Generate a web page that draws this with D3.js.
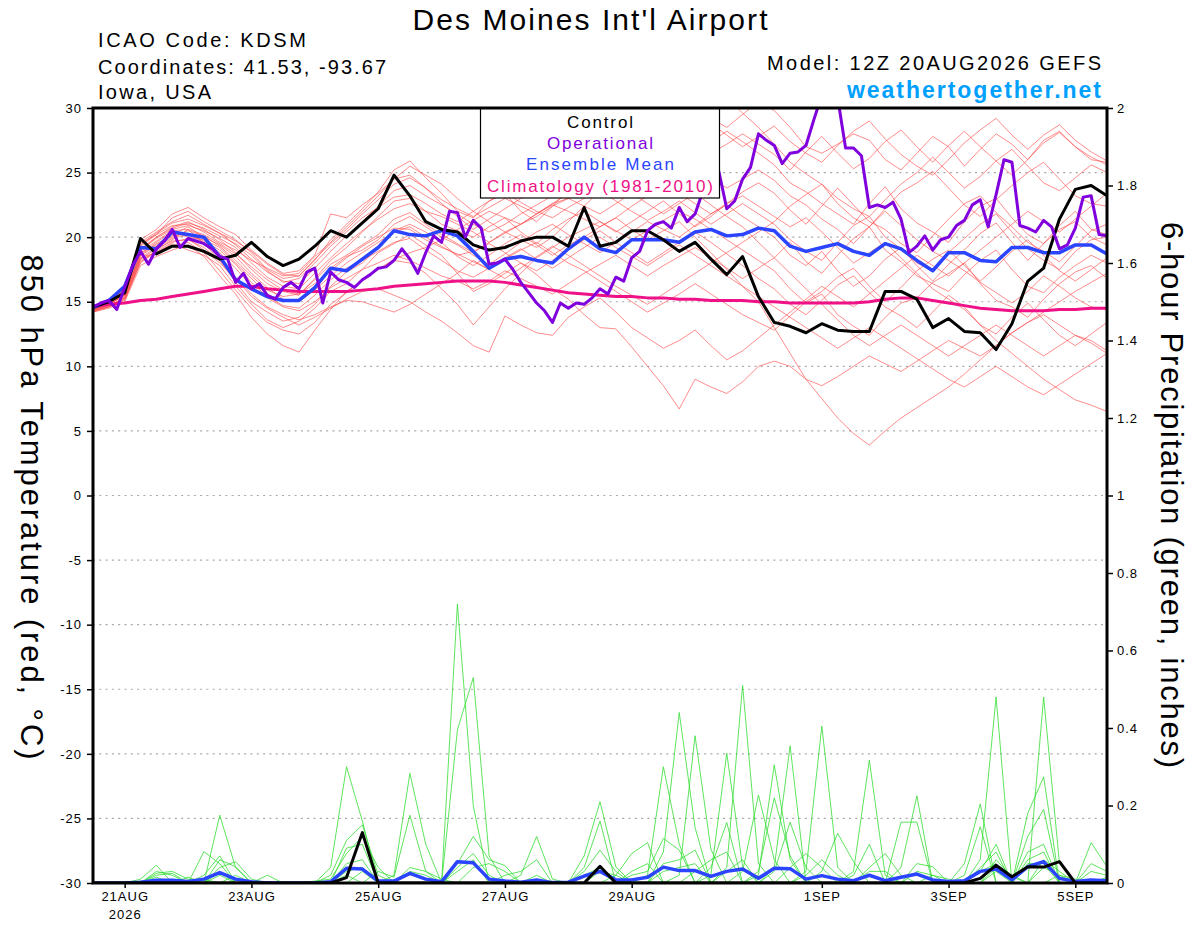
<!DOCTYPE html>
<html>
<head>
<meta charset="utf-8">
<script src="https://cdn.jsdelivr.net/npm/d3@7"></script>
<style>
  body { margin: 0; background: #fff; }
  text { font-family: "Liberation Sans", Arial, Helvetica, sans-serif; }
</style>
</head>
<body>
<svg id="chart" width="1200" height="927"></svg>
<script>
// ---- run / time info ----
const runStart = new Date(Date.UTC(2026, 7, 20, 12));
const runEnd = new Date(Date.UTC(2026, 8, 5, 12));
const stepHours = 6;      // ensemble output every 6h
const operStepHours = 3;  // operational run every 3h

const tempTicks = [30, 25, 20, 15, 10, 5, 0, -5, -10, -15, -20, -25, -30];
const precipTicks = [2, 1.8, 1.6, 1.4, 1.2, 1, 0.8, 0.6, 0.4, 0.2, 0];
const dateTicks = ["2026-08-21", "2026-08-23", "2026-08-25", "2026-08-27", "2026-08-29", "2026-09-01", "2026-09-03", "2026-09-05"];

// ---- 850 hPa temperature (C), 6-hourly ----
const controlTemp = [14.6,15.0,15.7,19.9,18.7,19.3,19.3,18.9,18.3,18.6,19.6,18.5,17.8,18.3,19.3,20.5,20.0,21.1,22.2,24.8,23.2,21.2,20.6,20.4,19.4,19.0,19.2,19.7,20.0,20.0,19.3,22.3,19.3,19.6,20.5,20.5,19.8,18.9,19.6,18.3,17.1,18.5,15.4,13.4,13.1,12.6,13.3,12.8,12.7,12.7,15.8,15.8,15.2,13.0,13.7,12.7,12.6,11.3,13.3,16.6,17.6,21.4,23.7,24.0,23.2];
const meanTemp = [14.55,15.1,16.2,19.2,19.1,20.4,20.2,20.0,18.5,16.7,16.0,15.4,15.1,15.1,16.1,17.6,17.4,18.3,19.2,20.5,20.2,20.1,20.5,20.1,18.9,17.6,18.3,18.5,18.2,18.0,19.1,20.0,19.1,18.8,19.8,19.8,19.8,19.6,20.4,20.6,20.1,20.2,20.7,20.5,19.3,18.9,19.2,19.5,18.9,18.6,19.5,19.1,18.2,17.4,18.8,18.8,18.2,18.1,19.2,19.2,18.8,18.8,19.4,19.4,18.7];
const climoTemp = [14.6,14.8,14.9,15.1,15.2,15.4,15.6,15.8,16.0,16.2,16.2,16.0,15.9,15.8,15.8,15.8,15.8,15.9,16.0,16.2,16.3,16.4,16.5,16.6,16.6,16.6,16.5,16.3,16.1,15.9,15.7,15.6,15.5,15.4,15.4,15.3,15.3,15.2,15.2,15.1,15.1,15.1,15.0,15.0,14.9,14.9,14.9,14.9,14.9,15.0,15.2,15.3,15.3,15.1,14.9,14.7,14.5,14.4,14.3,14.3,14.3,14.4,14.4,14.5,14.5];

// operational, 3-hourly
const operTemp = [14.6,14.9,15.1,14.4,16.1,17.8,18.9,17.9,19.1,19.7,20.6,19.2,19.9,19.7,19.5,19.1,18.5,18.3,16.5,17.2,16.0,16.4,15.5,15.2,16.1,16.5,16.0,17.3,17.6,14.9,17.3,16.7,16.5,16.1,16.7,17.1,17.6,17.7,18.2,19.1,18.3,17.2,18.8,20.1,19.6,22.0,21.9,20.0,21.3,20.7,17.9,18.0,18.3,17.5,16.5,15.7,14.9,14.3,13.4,14.9,14.5,14.9,14.8,15.3,16.0,15.6,16.9,16.6,18.4,18.9,20.5,21.0,21.2,20.7,22.3,21.2,21.8,23.6,25.6,25.1,22.2,22.8,24.5,25.4,28.0,27.5,27.1,25.7,26.5,26.6,27.1,29.1,31.0,31.5,30.8,26.9,26.9,26.3,22.3,22.5,22.3,22.7,21.4,18.8,19.3,20.1,19.0,19.8,20.0,20.9,21.3,22.5,22.9,20.8,23.3,26.0,25.8,20.9,20.7,20.4,21.3,20.8,19.1,19.4,20.7,23.1,23.2,20.2,20.1];

// ensemble members
const tMem01 = [14.6,15.0,16.0,19.5,20.2,21.5,22.0,21.2,20.5,19.8,18.8,17.5,16.8,17.0,18.2,19.8,21.0,22.2,23.5,25.2,25.9,24.6,23.4,22.0,21.5,22.8,23.4,22.0,21.2,22.4,23.6,24.5,25.5,26.5,27.2,28.0,28.8,29.5,30.0,29.2,28.5,29.5,30.5,29.8,28.5,27.0,26.5,27.2,28.0,27.5,26.0,25.2,26.5,27.8,27.0,25.5,26.8,28.0,27.2,26.0,27.5,28.2,27.0,26.0,25.8];
const tMem02 = [14.3,14.7,15.2,18.0,19.0,19.8,20.6,19.5,18.2,16.5,15.0,14.2,13.5,13.8,14.8,16.2,17.3,18.0,19.2,20.5,21.0,20.4,19.6,18.5,17.8,18.6,19.5,20.2,19.4,18.6,19.4,20.0,20.8,21.5,20.6,19.8,20.5,21.2,20.0,18.8,17.5,16.2,15.0,13.0,11.0,9.0,7.5,6.0,4.8,3.9,5.0,6.0,6.8,7.6,8.4,9.4,10.5,11.6,12.6,13.4,14.2,15.0,15.8,16.5,17.2];
const tMem03 = [14.2,14.6,15.4,18.4,18.8,19.5,19.0,18.6,17.8,16.2,14.8,13.6,13.0,13.5,14.5,15.8,16.4,17.5,18.8,19.5,20.2,19.4,18.6,17.2,15.8,16.4,17.2,18.0,17.1,16.0,15.2,14.0,13.0,12.9,11.5,10.0,8.5,6.7,9.0,8.4,7.9,8.8,10.0,10.4,10.0,9.0,8.5,9.2,10.0,10.8,10.2,9.6,10.4,11.2,12.0,11.4,10.8,11.6,12.6,13.4,14.0,13.2,12.4,12.0,11.2];
const tMem04 = [14.5,14.9,15.8,19.0,20.0,20.8,21.2,20.6,19.8,18.8,17.5,16.4,15.8,15.5,16.8,18.2,19.2,20.4,21.6,22.8,23.0,22.0,21.0,20.5,20.0,20.8,21.5,20.4,19.5,20.6,21.4,22.0,21.2,20.4,21.2,22.0,22.8,21.8,20.8,21.6,22.6,23.2,22.4,21.6,20.8,21.5,20.4,19.2,18.0,18.8,19.6,18.4,17.2,16.0,15.2,14.4,13.2,12.0,11.0,10.0,9.0,8.2,7.4,7.0,6.5];
const tMem05 = [14.4,14.8,15.5,18.7,19.6,20.4,20.0,19.8,19.2,18.0,16.8,15.6,15.0,15.2,16.2,17.6,18.5,19.0,19.8,21.0,21.6,20.8,20.0,19.4,18.6,17.9,18.7,19.6,20.4,21.0,20.2,19.5,18.8,19.6,20.4,21.2,20.6,20.0,20.9,21.8,22.5,21.6,20.8,20.0,18.6,17.8,18.9,17.4,16.2,17.0,18.3,19.2,17.8,16.6,17.9,19.0,20.3,21.1,19.6,18.2,19.5,20.6,21.2,20.0,19.4];
const tMem06 = [14.6,15.1,16.2,19.8,20.6,21.8,22.3,21.5,20.8,20.2,19.0,18.0,17.2,17.4,18.6,21.8,21.5,22.5,23.4,24.5,24.8,23.8,22.6,21.6,20.6,21.4,22.2,23.0,23.6,24.2,24.9,25.6,26.4,27.5,28.4,29.2,30.5,31.5,31.0,30.2,30.8,29.6,28.5,27.2,25.8,24.9,24.1,23.0,22.2,21.6,22.9,24.1,25.0,26.2,25.0,23.8,24.7,25.9,26.8,25.5,24.2,23.6,24.6,25.6,25.0];
const tMem07 = [14.2,14.5,15.0,17.8,18.5,19.0,19.4,18.5,17.0,15.6,13.8,12.5,11.6,11.1,12.8,14.4,15.8,16.6,17.5,18.2,18.0,17.2,16.0,14.8,13.2,14.6,16.0,17.2,18.4,19.2,20.0,20.6,21.2,20.5,19.8,20.5,21.3,22.0,21.4,20.6,19.8,19.0,18.2,17.4,16.0,14.9,15.6,14.0,13.1,12.4,13.8,14.9,15.3,16.5,17.2,18.0,16.4,15.1,14.6,13.8,15.2,16.4,17.3,17.8,16.8];
const tMem08 = [14.5,15.0,15.9,19.3,20.2,20.9,21.0,20.4,19.6,19.0,18.2,17.6,17.0,17.2,18.5,19.6,20.8,22.0,23.2,24.5,25.5,24.8,24.1,23.0,22.0,21.2,20.4,21.0,21.8,22.5,22.0,21.4,20.8,21.5,22.4,23.2,24.0,23.4,22.6,21.8,22.6,23.5,24.2,23.4,22.1,21.0,22.4,23.8,22.5,21.2,20.6,19.5,18.8,20.1,21.4,22.6,23.2,21.9,20.8,19.6,18.9,18.1,19.3,20.5,21.0];
const tMem09 = [14.3,14.6,15.1,18.2,18.9,19.6,19.9,19.0,18.0,16.8,15.4,14.5,13.8,13.2,13.8,14.5,15.2,15.8,16.0,15.5,15.0,14.2,13.5,12.6,11.6,11.1,13.9,13.2,12.6,12.4,13.8,14.6,15.3,14.2,13.0,12.2,11.4,12.0,12.8,11.6,10.5,11.2,12.2,13.2,14.2,15.2,16.2,15.4,14.6,15.6,16.6,17.6,18.6,17.8,17.0,18.0,19.0,20.0,21.0,22.0,21.2,20.4,21.4,22.4,23.4];
const tMem10 = [14.5,14.9,15.7,19.0,19.9,20.6,20.9,20.5,19.9,19.2,18.0,16.9,16.2,16.0,17.2,18.4,19.5,20.5,21.4,22.2,22.6,22.0,21.6,21.0,20.4,19.6,20.3,21.0,21.6,22.4,23.0,23.6,24.3,25.0,24.2,25.0,25.8,26.6,27.3,26.5,27.2,28.0,27.2,26.4,25.2,26.6,27.8,26.5,25.3,26.1,27.4,28.3,27.0,25.8,27.1,28.2,27.0,25.9,24.8,26.0,27.3,28.1,27.0,26.2,25.6];
const tMem11 = [14.4,14.8,15.6,18.8,19.4,20.2,20.8,20.0,19.4,18.5,17.2,16.1,15.2,15.0,15.9,17.0,18.0,18.8,19.6,20.4,20.8,20.0,19.3,18.6,18.9,19.5,18.8,18.0,17.4,18.2,19.0,19.8,20.5,19.6,18.8,18.0,18.8,19.6,20.4,19.6,18.7,17.8,16.8,16.0,14.8,14.0,15.1,16.3,17.0,15.7,14.6,13.9,13.0,14.2,15.5,14.6,13.2,12.5,13.8,14.9,13.6,12.4,11.6,12.5,13.4];
const tMem12 = [14.6,15.0,16.1,19.6,20.4,21.2,21.7,21.0,20.3,19.4,18.3,17.3,16.6,16.4,17.6,18.9,20.1,21.2,22.4,23.6,24.0,23.2,22.5,21.8,21.0,20.4,21.0,21.8,22.5,23.2,23.8,24.4,25.0,25.7,26.4,25.6,26.3,27.2,28.0,28.8,27.9,27.0,27.8,28.6,27.4,26.5,25.8,27.1,28.2,29.0,27.6,26.4,25.5,24.8,26.0,27.3,28.3,29.2,27.9,26.8,27.9,28.7,27.5,26.6,25.9];
const tMem13 = [14.4,14.7,15.3,18.4,19.2,19.9,20.2,19.6,18.8,17.6,16.2,15.3,14.6,14.3,15.0,16.1,16.8,17.5,18.0,18.6,18.2,17.6,17.0,16.6,16.0,16.6,17.4,16.8,16.2,15.6,16.4,17.2,17.9,18.6,17.8,17.0,17.8,18.5,19.2,18.4,17.6,16.8,17.6,18.4,19.6,18.1,17.2,18.6,19.9,20.8,19.0,18.1,17.0,16.4,15.8,17.1,18.2,19.0,17.5,16.2,15.7,16.9,17.8,18.6,18.0];
const tMem14 = [14.3,14.6,15.2,18.1,18.8,19.3,19.6,18.8,17.4,15.9,14.5,13.4,12.8,12.5,13.4,14.8,15.7,16.7,17.5,18.3,18.8,19.2,19.8,20.6,21.3,22.0,21.5,21.0,21.8,22.6,23.0,22.4,21.8,22.6,23.4,22.6,21.8,22.6,23.4,22.5,21.6,20.8,19.6,18.4,17.2,16.0,14.8,13.6,12.4,11.6,12.4,13.2,12.4,11.6,10.8,11.6,12.4,13.2,12.4,11.6,10.8,11.6,12.4,11.8,11.0];
const tMem15 = [14.5,14.9,15.8,19.1,20.0,20.7,21.1,20.7,20.1,19.5,18.6,17.4,16.5,16.8,18.0,19.3,20.4,21.5,22.3,23.1,23.3,22.6,21.8,21.2,22.0,22.8,23.4,22.7,22.0,21.5,22.3,23.0,23.8,24.6,25.4,24.6,25.4,26.2,25.4,24.6,23.8,24.5,25.2,24.4,23.2,22.5,21.4,20.6,19.5,20.8,22.0,20.9,19.8,18.9,18.2,17.4,16.5,15.7,14.9,15.8,17.0,16.2,15.3,14.6,14.4];
const tMem16 = [14.3,14.7,15.3,18.3,19.1,19.7,19.8,19.2,18.2,16.9,15.6,14.6,14.0,13.6,14.0,14.6,15.1,15.0,14.6,14.2,14.8,15.6,16.4,17.2,18.2,17.5,16.8,17.6,18.5,19.3,18.6,17.8,17.0,16.2,15.5,14.8,15.6,16.4,17.2,18.0,18.8,19.6,20.4,21.2,22.4,23.3,24.1,22.6,21.5,20.8,22.2,23.5,24.2,25.1,23.8,22.5,21.6,22.9,24.0,25.0,25.8,24.5,23.2,22.6,22.4];
const tMem17 = [14.5,14.9,15.7,18.9,19.7,20.5,20.6,20.2,19.5,18.7,17.7,16.7,15.9,15.6,16.7,17.9,18.6,19.4,20.2,21.4,21.9,21.0,20.2,19.5,18.8,19.6,20.4,19.8,19.2,20.0,21.2,22.4,23.6,22.8,22.0,21.3,22.0,22.8,21.9,21.0,21.8,22.6,21.8,21.0,19.8,18.9,18.2,19.6,20.9,21.6,20.0,19.1,18.0,17.4,18.8,19.9,21.0,21.8,20.4,19.1,18.2,17.5,18.9,19.8,20.0];
const tMem18 = [14.4,14.8,15.5,18.6,19.5,20.1,20.3,19.7,19.0,17.9,16.5,15.4,14.7,14.5,15.5,16.7,17.6,18.2,18.9,19.6,19.9,19.0,18.2,17.4,16.9,17.6,18.4,19.1,18.3,17.6,18.4,19.2,20.0,19.2,18.5,17.8,18.6,19.4,18.6,17.8,17.0,16.2,15.4,14.6,13.8,13.0,12.2,11.4,12.2,13.0,12.2,11.4,10.6,9.8,9.0,8.4,9.2,10.0,9.2,8.4,7.8,8.6,9.4,10.2,11.0];
const tMem19 = [14.6,15.0,16.0,19.4,20.3,21.1,21.4,20.9,20.3,19.7,18.9,17.9,17.1,17.0,18.3,19.5,20.6,21.8,22.9,24.1,24.6,23.8,22.9,22.2,21.6,22.3,23.0,22.4,21.8,22.6,23.4,24.2,25.0,25.8,26.6,27.4,26.6,25.8,26.6,27.4,28.2,27.4,26.5,25.6,24.2,23.5,22.6,21.8,21.0,22.6,23.9,22.2,21.1,20.4,19.6,21.2,22.4,23.0,21.5,20.2,19.5,20.9,22.0,20.6,20.2];
const tMem20 = [14.4,14.8,15.5,18.6,19.3,20.0,20.5,20.1,19.3,18.2,17.0,15.9,15.4,15.6,16.4,17.4,18.4,19.3,20.0,20.7,20.6,19.8,19.2,18.7,18.1,17.5,18.3,19.0,19.6,18.8,18.0,17.4,16.6,15.8,15.0,14.2,14.9,15.6,16.4,15.6,14.8,14.0,13.4,12.8,13.9,15.0,15.8,16.9,17.6,16.2,15.0,16.1,17.4,18.3,19.0,17.8,16.6,17.7,18.9,19.8,18.6,17.4,16.6,17.5,18.4];
const tempMembers = [tMem01, tMem02, tMem03, tMem04, tMem05, tMem06, tMem07, tMem08, tMem09, tMem10,
                     tMem11, tMem12, tMem13, tMem14, tMem15, tMem16, tMem17, tMem18, tMem19, tMem20];

// ---- 6-hour precipitation (inches) ----
const controlPrecip = [0,0,0,0,0,0,0,0,0,0, 0,0,0,0,0,0,0.014,0.13,0,0, 0,0,0,0,0,0,0,0,0,0, 0,0,0.043,0,0,0,0,0,0,0, 0,0,0,0,0,0,0,0,0,0, 0,0,0,0,0,0,0.012,0.046,0.016,0.042, 0.041,0.055,0,0,0];
const meanPrecip = [0,0,0,0.002,0.007,0.007,0.004,0.01,0.027,0.01, 0.003,0,0,0,0,0.003,0.038,0.036,0.005,0.005, 0.025,0.01,0.003,0.055,0.052,0.01,0.005,0.002,0.008,0.001, 0.002,0.018,0.03,0.008,0.008,0.015,0.041,0.032,0.032,0.017, 0.03,0.036,0.012,0.038,0.037,0.01,0.019,0.01,0.006,0.02, 0.006,0.015,0.023,0.008,0.004,0.006,0.03,0.036,0.008,0.042, 0.055,0.012,0.004,0.008,0.006];

// members: [step, inches], every other step is dry
const pMem01 = [[14,0.005],[15,0.01],[16,0.076],[17,0.12],[18,0.04],[34,0.03],[35,0.05],[45,0.02],[46,0.06],[47,0.02],[57,0.03],[63,0.03],[64,0.02]];
const pMem02 = [[3,0.01],[4,0.046],[20,0.04],[21,0.03],[22,0.01],[31,0.03],[32,0.085],[33,0.03],[43,0.04],[44,0.354],[56,0.03],[57,0.1]];
const pMem03 = [[5,0.01],[15,0.04],[16,0.30],[17,0.16],[36,0.05],[37,0.06],[38,0.085],[49,0.03],[50,0.03],[60,0.48],[61,0.05]];
const pMem04 = [[7,0.081],[8,0.05],[23,0.04],[24,0.076],[25,0.02],[40,0.04],[41,0.51],[42,0.05],[55,0.02],[56,0.145]];
const pMem05 = [[3,0.005],[16,0.09],[17,0.1],[31,0.07],[32,0.21],[33,0.042],[45,0.03],[46,0.405],[47,0.04],[59,0.08],[60,0.1]];
const pMem06 = [[4,0.03],[5,0.02],[19,0.02],[20,0.283],[21,0.1],[35,0.02],[36,0.30],[37,0.10],[49,0.04],[50,0.076],[51,0.02],[60,0.06],[61,0.03]];
const pMem07 = [[8,0.175],[9,0.04],[23,0.03],[24,0.06],[37,0.02],[38,0.38],[39,0.087],[52,0.03],[53,0.02],[63,0.104],[64,0.042]];
const pMem08 = [[7,0.01],[16,0.05],[17,0.06],[32,0.03],[33,0.02],[44,0.04],[45,0.076],[46,0.04],[57,0.04],[58,0.02]];
const pMem09 = [[4,0.025],[5,0.03],[6,0.01],[24,0.04],[25,0.05],[26,0.03],[39,0.02],[40,0.335],[41,0.042],[55,0.05],[56,0.204],[64,0.015]];
const pMem10 = [[15,0.02],[16,0.11],[17,0.15],[18,0.02],[34,0.02],[35,0.03],[36,0.115],[37,0.085],[48,0.03],[49,0.317],[50,0.02],[60,0.04],[61,0.02]];
const pMem11 = [[7,0.02],[8,0.07],[23,0.72],[24,0.2],[38,0.03],[39,0.06],[40,0.08],[51,0.04],[52,0.225],[59,0.05],[60,0.05]];
const pMem12 = [[4,0.02],[5,0.025],[16,0.03],[17,0.04],[27,0.02],[28,0.12],[29,0.01],[43,0.03],[44,0.157],[45,0.04],[57,0.06],[58,0.016]];
const pMem13 = [[8,0.04],[9,0.055],[10,0.01],[31,0.04],[32,0.16],[42,0.02],[43,0.305],[44,0.06],[56,0.04],[57,0.08]];
const pMem14 = [[4,0.015],[18,0.03],[19,0.015],[20,0.175],[21,0.03],[36,0.08],[37,0.44],[38,0.143],[53,0.02],[54,0.01],[63,0.05],[64,0.03]];
const pMem15 = [[8,0.03],[23,0.395],[24,0.53],[25,0.07],[40,0.03],[41,0.06],[48,0.02],[49,0.1],[59,0.18],[60,0.274]];
const pMem16 = [[11,0.02],[17,0.03],[26,0.02],[27,0.03],[28,0.06],[41,0.03],[42,0.227],[43,0.06],[56,0.06],[57,0.48]];
const pMem17 = [[6,0.015],[20,0.03],[21,0.02],[33,0.02],[34,0.076],[35,0.104],[46,0.03],[47,0.128],[48,0.055],[59,0.12],[60,0.19]];
const pMem18 = [[8,0.06],[9,0.042],[28,0.02],[36,0.03],[37,0.04],[38,0.05],[51,0.157],[52,0.157],[61,0.02],[62,0.01]];
const pMem19 = [[8,0.02],[23,0.05],[24,0.12],[25,0.06],[26,0.045],[39,0.04],[40,0.156],[52,0.05],[53,0.042],[59,0.06],[60,0.08]];
const pMem20 = [[9,0.02],[16,0.02],[31,0.02],[32,0.04],[42,0.03],[43,0.22],[44,0.07],[56,0.03],[57,0.05]];
const precipMembers = [pMem01, pMem02, pMem03, pMem04, pMem05, pMem06, pMem07, pMem08, pMem09, pMem10,
                       pMem11, pMem12, pMem13, pMem14, pMem15, pMem16, pMem17, pMem18, pMem19, pMem20];

const legendItems = [
  { label: "Control", color: "#000000", len: 66 },
  { label: "Operational", color: "#8000dd", len: 106 },
  { label: "Ensemble Mean", color: "#2a44ff", len: 148 },
  { label: "Climatology (1981-2010)", color: "#ee1188", len: 226 }
];

// ---------------------------------------------------------------
const plot = { left: 93, right: 1107, top: 108, bottom: 883 };
const nSteps = controlTemp.length;

const svg = d3.select("#chart");

const x = d3.scaleUtc().domain([runStart, runEnd]).range([plot.left, plot.right]);
const yT = d3.scaleLinear().domain([-30, 30]).range([plot.bottom, plot.top]);
const yP = d3.scaleLinear().domain([0, 2]).range([plot.bottom, plot.top]);

const stepTime = i => d3.utcHour.offset(runStart, i * stepHours);
const operTime = i => d3.utcHour.offset(runStart, i * operStepHours);

svg.append("defs").append("clipPath").attr("id", "plotClip")
  .append("rect")
  .attr("x", plot.left).attr("y", plot.top)
  .attr("width", plot.right - plot.left).attr("height", plot.bottom - plot.top);

// dotted grid at the temperature ticks
svg.append("g")
  .selectAll("line")
  .data(tempTicks.filter(t => t > -30 && t < 30))
  .join("line")
  .attr("x1", plot.left).attr("x2", plot.right)
  .attr("y1", d => yT(d)).attr("y2", d => yT(d))
  .attr("stroke", "#a8a8a8")
  .attr("stroke-width", 1.2)
  .attr("stroke-dasharray", "2,4.3");

const tempLine = d3.line().x((d, i) => x(stepTime(i))).y(d => yT(d));
const operLine = d3.line().x((d, i) => x(operTime(i))).y(d => yT(d));
const precipLine = d3.line().x((d, i) => x(stepTime(i))).y(d => yP(d));

function spikesToSeries(spikes) {
  const s = new Array(nSteps).fill(0);
  spikes.forEach(([i, v]) => { s[i] = v; });
  return s;
}

const lines = svg.append("g").attr("clip-path", "url(#plotClip)")
  .attr("fill", "none")
  .attr("stroke-linejoin", "round");

// red spaghetti
lines.append("g")
  .selectAll("path")
  .data(tempMembers)
  .join("path")
  .attr("d", tempLine)
  .attr("stroke", "#ff4a4a")
  .attr("stroke-opacity", 0.85)
  .attr("stroke-width", 0.75);

// green spaghetti
lines.append("g")
  .selectAll("path")
  .data(precipMembers.map(spikesToSeries))
  .join("path")
  .attr("d", precipLine)
  .attr("stroke", "#33dd33")
  .attr("stroke-width", 0.8);

lines.append("path").datum(climoTemp).attr("d", tempLine)
  .attr("stroke", "#ee1188").attr("stroke-width", 3);
lines.append("path").datum(meanTemp).attr("d", tempLine)
  .attr("stroke", "#2a44ff").attr("stroke-width", 3.5);
lines.append("path").datum(controlTemp).attr("d", tempLine)
  .attr("stroke", "#000").attr("stroke-width", 3);
lines.append("path").datum(operTemp).attr("d", operLine)
  .attr("stroke", "#8000dd").attr("stroke-width", 3);

lines.append("path").datum(meanPrecip).attr("d", precipLine)
  .attr("stroke", "#2a44ff").attr("stroke-width", 3.5);
lines.append("path").datum(controlPrecip).attr("d", precipLine)
  .attr("stroke", "#000").attr("stroke-width", 3);

// legend box
const legend = svg.append("g");
legend.append("rect")
  .attr("x", 480.5).attr("y", plot.top)
  .attr("width", 239).attr("height", 90)
  .attr("fill", "#fff").attr("stroke", "#000").attr("stroke-width", 1.2);
legend.selectAll("text")
  .data(legendItems)
  .join("text")
  .attr("x", 600)
  .attr("y", (d, i) => 127.5 + i * 21.4)
  .attr("text-anchor", "middle")
  .attr("font-size", 17)
  .attr("textLength", d => d.len)
  .attr("lengthAdjust", "spacing")
  .attr("fill", d => d.color)
  .text(d => d.label);

// axes
function styleAxis(g, size) {
  g.select(".domain").remove();
  g.selectAll(".tick line").attr("stroke", "#000").attr("stroke-width", 1.5);
  g.selectAll(".tick text")
    .attr("font-family", '"Liberation Sans", Arial, sans-serif')
    .attr("font-size", size)
    .attr("letter-spacing", 1)
    .attr("fill", "#000");
}

svg.append("g")
  .attr("transform", `translate(${plot.left},0)`)
  .call(d3.axisLeft(yT).tickValues(tempTicks).tickFormat(d => String(d)).tickSize(6).tickPadding(5))
  .call(g => styleAxis(g, 13));

svg.append("g")
  .attr("transform", `translate(${plot.right},0)`)
  .call(d3.axisRight(yP).tickValues(precipTicks).tickFormat(d => String(d)).tickSize(6).tickPadding(4))
  .call(g => styleAxis(g, 13));

const parseDay = d3.utcParse("%Y-%m-%d");
const dayFmt = d3.utcFormat("%-d%b");
const bottomAxis = svg.append("g")
  .attr("transform", `translate(0,${plot.bottom})`)
  .call(d3.axisBottom(x)
    .tickValues(dateTicks.map(parseDay))
    .tickFormat(d => dayFmt(d).toUpperCase())
    .tickSize(5).tickPadding(4))
  .call(g => styleAxis(g, 13));
bottomAxis.select(".tick text")
  .append("tspan")
  .attr("x", 0).attr("dy", "1.35em")
  .text(d => d3.utcFormat("%Y")(d));

// frame
svg.append("rect")
  .attr("x", plot.left).attr("y", plot.top)
  .attr("width", plot.right - plot.left).attr("height", plot.bottom - plot.top)
  .attr("fill", "none").attr("stroke", "#000").attr("stroke-width", 3);

// axis titles
svg.append("text")
  .attr("transform", `translate(21,507) rotate(90)`)
  .attr("text-anchor", "middle")
  .attr("font-size", 31)
  .attr("textLength", 505).attr("lengthAdjust", "spacing")
  .text("850 hPa Temperature (red, °C)");

svg.append("text")
  .attr("transform", `translate(1161,495) rotate(90)`)
  .attr("text-anchor", "middle")
  .attr("font-size", 31)
  .attr("textLength", 546).attr("lengthAdjust", "spacing")
  .text("6-hour Precipitation (green, inches)");

// header
svg.append("text")
  .attr("x", 590).attr("y", 30)
  .attr("text-anchor", "middle")
  .attr("font-size", 30)
  .attr("textLength", 355).attr("lengthAdjust", "spacing")
  .text("Des Moines Int'l Airport");

const headLeft = [
  { t: "ICAO Code: KDSM", y: 47, len: 208 },
  { t: "Coordinates: 41.53, -93.67", y: 73.5, len: 288 },
  { t: "Iowa, USA", y: 99, len: 113 }
];
svg.append("g").selectAll("text")
  .data(headLeft)
  .join("text")
  .attr("x", 98).attr("y", d => d.y)
  .attr("font-size", 20)
  .attr("textLength", d => d.len).attr("lengthAdjust", "spacing")
  .text(d => d.t);

svg.append("text")
  .attr("x", 1101).attr("y", 70)
  .attr("text-anchor", "end")
  .attr("font-size", 20)
  .attr("textLength", 334).attr("lengthAdjust", "spacing")
  .text("Model: 12Z 20AUG2026 GEFS");

svg.append("text")
  .attr("x", 1101).attr("y", 97.5)
  .attr("text-anchor", "end")
  .attr("font-size", 23)
  .attr("font-weight", "bold")
  .attr("fill", "#00a0ff")
  .attr("textLength", 254).attr("lengthAdjust", "spacing")
  .text("weathertogether.net");
</script>
</body>
</html>
